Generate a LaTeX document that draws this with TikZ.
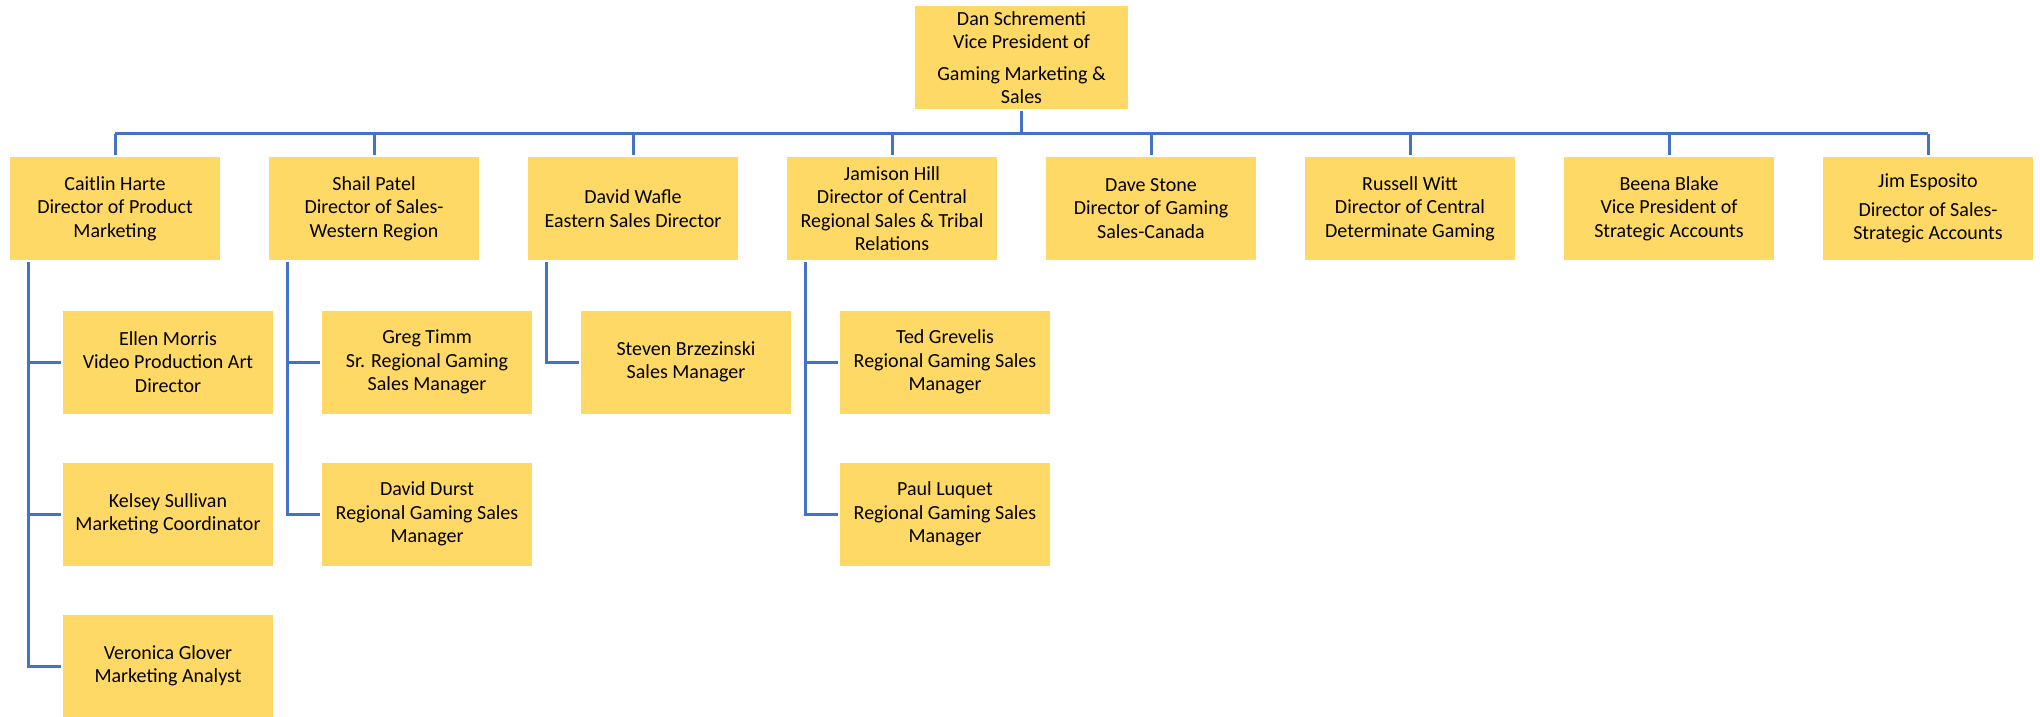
\documentclass[tikz,border=0pt]{standalone}
\usepackage{fontspec}
\setmainfont{Carlito}
\usetikzlibrary{calc}
\definecolor{boxfill}{HTML}{FFD966}
\definecolor{linecol}{HTML}{4472C4}
\tikzset{
  box/.style={draw=none, fill=boxfill, minimum width=105pt, minimum height=51.5pt,
    inner sep=0pt, outer sep=1.2pt, align=center, font=\fontsize{10}{11.7}\selectfont},
  topbox/.style={box, minimum width=106.5pt},
  conn/.style={draw=linecol, line width=1.5pt}
}
\begin{document}
\begin{tikzpicture}[x=0.5pt,y=-0.5pt]
\useasboundingbox (0,0) rectangle (2040,717);
% top
\node[topbox] (dan) at (1021.5,57.5) {Dan Schrementi\\Vice President of\\[4pt]Gaming Marketing \&\\Sales};
% level 1
\node[box] (caitlin) at (115,208.5) {Caitlin Harte\\Director of Product\\Marketing};
\node[box] (shail) at (374,208.5) {Shail Patel\\Director of Sales-\\Western Region};
\node[box] (wafle) at (633,208.5) {David Wafle\\Eastern Sales Director};
\node[box] (jamison) at (892,208.5) {Jamison Hill\\Director of Central\\Regional Sales \& Tribal\\Relations};
\node[box] (stone) at (1151,208.5) {Dave Stone\\Director of Gaming\\Sales-Canada};
\node[box] (witt) at (1410,208.5) {Russell Witt\\Director of Central\\Determinate Gaming};
\node[box] (blake) at (1669,208.5) {Beena Blake\\Vice President of\\Strategic Accounts};
\node[box] (jim) at (1928,208.5) {Jim Esposito\\[2.5pt]Director of Sales-\\Strategic Accounts};
% level 2
\node[box] (ellen) at (168,362) {Ellen Morris\\Video Production Art\\Director};
\node[box] (kelsey) at (168,514) {Kelsey Sullivan\\Marketing Coordinator};
\node[box] (veronica) at (168,666) {Veronica Glover\\Marketing Analyst};
\node[box] (greg) at (427,362) {Greg Timm\\Sr. Regional Gaming\\Sales Manager};
\node[box] (durst) at (427,514) {David Durst\\Regional Gaming Sales\\Manager};
\node[box] (steven) at (686,362) {Steven Brzezinski\\Sales Manager};
\node[box] (ted) at (945,362) {Ted Grevelis\\Regional Gaming Sales\\Manager};
\node[box] (paul) at (945,514) {Paul Luquet\\Regional Gaming Sales\\Manager};
% bus
\coordinate (busL) at (caitlin.north |- 0,134);
\coordinate (busR) at (jim.north |- 0,134);
\draw[conn] (busL) -- (busR);
\draw[conn] (dan.south) -- (dan.south |- busL);
\foreach \n in {caitlin,shail,wafle,jamison,stone,witt,blake,jim}
  \draw[conn] (\n.north |- busL) -- (\n.north);
% stems
\foreach \p/\last in {caitlin/veronica,shail/durst,wafle/steven,jamison/paul}{
  \coordinate (\p stem) at ($(\p.south west)+(21,0)$);
  \draw[conn] (\p stem) |- (\last.west);
}
\foreach \p/\c in {caitlin/ellen,caitlin/kelsey,shail/greg,jamison/ted}
  \draw[conn] (\p stem |- \c.west) -- (\c.west);
\end{tikzpicture}
\end{document}
